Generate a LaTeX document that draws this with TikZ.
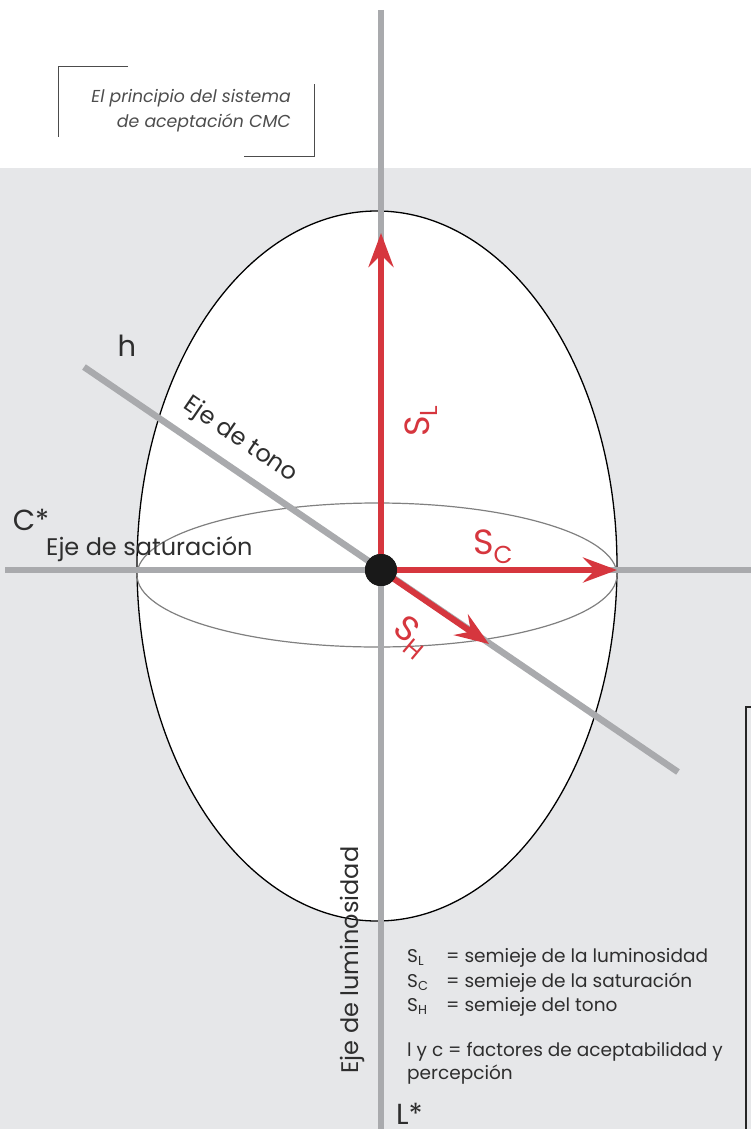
\documentclass[tikz,border=0pt]{standalone}
\usepackage{fontspec}
\setmainfont{Poppins}
\usetikzlibrary{arrows.meta}

\definecolor{axisgray}{HTML}{A9AAAD}
\definecolor{bggray}{HTML}{E6E7E9}
\definecolor{cmcred}{HTML}{D6363E}
\definecolor{inkgray}{HTML}{2E2E2E}

\tikzset{
  axis/.style={line width=6.5pt, axisgray},
  semi/.style={line width=6pt, cmcred, -{Stealth[length=34pt, width=25pt, inset=12pt]}},
  lbl/.style={text=inkgray, inner sep=0pt, font=\fontsize{24}{28}\selectfont},
  biglbl/.style={text=inkgray, inner sep=0pt, font=\fontsize{29}{32}\selectfont},
  redlbl/.style={text=cmcred, inner sep=0pt, font=\fontsize{35}{38}\selectfont},
  leg/.style={text=inkgray, inner sep=0pt, font=\fontsize{18.5}{22}\selectfont},
  ttl/.style={text=inkgray!85, inner sep=0pt, font=\fontsize{17.3}{20}\selectfont\itshape},
}

\begin{document}
\begin{tikzpicture}[x=1pt, y=-1pt]

	\useasboundingbox (0,0) rectangle (751,1129);
	\fill[bggray] (0,168) rectangle (751,1129);

	\draw[fill=white, line width=1.3pt] (377,566) ellipse [x radius=240, y radius=355];
	\draw[line width=1.2pt, black!50] (377,575) ellipse [x radius=240, y radius=72];

	\coordinate (ltop) at (381,10);
	\coordinate (lbot) at (381,1129);
	\coordinate (cleft) at (5,570);
	\coordinate (cright) at (751,570);
	\coordinate (hleft) at (84,367);
	\coordinate (hright) at (678,772);
	\coordinate (sl) at (381,233);
	\coordinate (sc) at (617,570);
	\coordinate (sh) at (489,644);

	\draw[axis] (ltop) -- (lbot);
	\draw[axis] (cleft) -- (cright);
	\draw[axis] (hleft) -- (hright);

	\node (o) [circle, fill=black!90, inner sep=0, minimum size=32pt] at (381,570) {};

	\path[semi]
	(o.center) edge (sl)
	(o.center) edge (sc)
	(o.center) edge (sh);
	\fill[black!90] (o) circle [radius=16];

	\node (SL) [redlbl, rotate=90] at (421,421) {S\textsubscript{L}};
	\node (SC) [redlbl] at (493,547) {S\textsubscript{C}};
	\node (SH) [redlbl, rotate=-40] at (411,637) {S\textsubscript{H}};

	\node (h) [biglbl] at (127,346) {h};
	\node (tono) [lbl, rotate=-34.3] at (240,440) {Eje de tono};
	\node (cstar) [biglbl] at (31,520) {C*};
	\node (sat) [lbl, anchor=base west] at (46,555) {Eje de saturación};
	\node (lum) [lbl, anchor=base, rotate=90] at (358,960) {Eje de luminosidad};
	\node (lstar) [biglbl, anchor=base west] at (396,1124) {L*};

	\node (k1) [leg, anchor=base west] at (407,962) {S\textsubscript{L}};
	\node (k2) [leg, anchor=base west] at (407,987) {S\textsubscript{C}};
	\node (k3) [leg, anchor=base west] at (407,1011) {S\textsubscript{H}};
	\node (d1) [leg, anchor=base west] at (446,962) {= semieje de la luminosidad};
	\node (d2) [leg, anchor=base west] at (446,987) {= semieje de la saturación};
	\node (d3) [leg, anchor=base west] at (446,1011) {= semieje del tono};
	\node (f1) [leg, anchor=base west] at (407,1056) {l y c = factores de aceptabilidad y};
	\node (f2) [leg, anchor=base west] at (407,1079) {percepción};

	\draw[line width=2pt, black!85] (751,707) -- (746,707) -- (746,1129);

	\draw[line width=0.8pt, black!70] (128,66) -- (58,66) -- (58,137);
	\draw[line width=0.8pt, black!70] (244,156) -- (314,156) -- (314,84);
	\node (t1) [ttl, anchor=base east] at (291,103) {El principio del sistema};
	\node (t2) [ttl, anchor=base east] at (291,128) {de aceptación CMC};

\end{tikzpicture}
\end{document}
